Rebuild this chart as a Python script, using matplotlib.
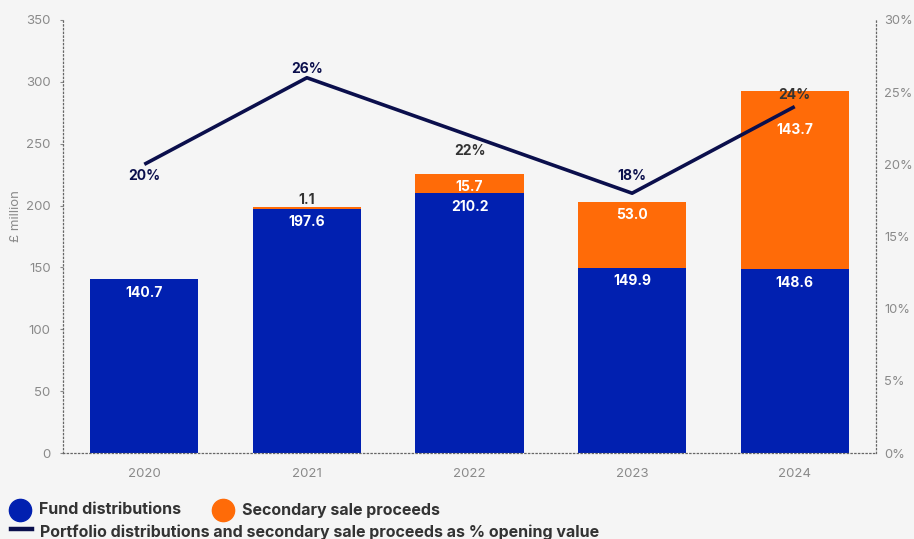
import matplotlib
matplotlib.use("Agg")
import matplotlib.pyplot as plt
from matplotlib.lines import Line2D

years = ["2020", "2021", "2022", "2023", "2024"]
fund = [140.7, 197.6, 210.2, 149.9, 148.6]
secondary = [0.0, 1.1, 15.7, 53.0, 143.7]
pct = [20, 26, 22, 18, 24]
left_ticks = [0, 50, 100, 150, 200, 250, 300, 350]
right_ticks = [0, 5, 10, 15, 20, 25, 30]

BLUE = "#0120b0"
ORANGE = "#ff6b08"
NAVY = "#0b0f4c"
DARK = "#333333"
GRAY = "#8a8a8a"
BG = "#f5f5f5"

plt.rcParams["font.family"] = ["Inter", "DejaVu Sans"]

fig = plt.figure(figsize=(9.14, 5.39), dpi=100, facecolor=BG)
ax = fig.add_axes([63/914, 1-453/539, (876-63)/914, (453-20)/539])
ax.set_facecolor(BG)
x = list(range(len(years)))
w = 0.665
ax.bar(x, fund, width=w, color=BLUE, zorder=2)
ax.bar(x, secondary, width=w, bottom=fund, color=ORANGE, zorder=2)
ax.set_xlim(-0.5, 4.5)
ax.set_ylim(0, 350)
ax.set_yticks(left_ticks)
ax.set_xticks(x)
ax.set_xticklabels(years)
ax.tick_params(axis="y", colors=GRAY, labelsize=9.5, length=2, width=0.8, pad=7)
ax.tick_params(axis="x", colors=GRAY, labelsize=9.5, length=0, pad=11)
ax.set_ylabel("£ million", color=GRAY, fontsize=9.5)
ax.yaxis.set_label_coords(-0.050, 0.547)
for s in ["top", "right"]:
    ax.spines[s].set_visible(False)
for s in ["left", "bottom"]:
    ax.spines[s].set_linestyle((0, (1, 2)))
    ax.spines[s].set_color("#666666")
    ax.spines[s].set_linewidth(0.9)

# bar labels (offsets in points, downward positive)
sec_off = [0, -5, 9.6, 9.4, 27.8]
for i in x:
    ax.annotate(f"{fund[i]:.1f}", (i, fund[i]), xytext=(0, -10), textcoords="offset points",
                ha="center", va="center", color="white", fontsize=10, fontweight="bold", zorder=4)
    if secondary[i] > 0:
        col = DARK if secondary[i] < 5 else "white"
        ax.annotate(f"{secondary[i]:.1f}", (i, fund[i] + secondary[i]), xytext=(0, -sec_off[i]),
                    textcoords="offset points", ha="center", va="center", color=col,
                    fontsize=10, fontweight="bold", zorder=4)

ax2 = ax.twinx()
ax2.set_ylim(0, 30)
ax2.set_yticks(right_ticks)
ax2.set_yticklabels([f"{t}%" for t in right_ticks])
ax2.tick_params(axis="y", colors=GRAY, labelsize=9.3, length=0, pad=6)
for s in ["top", "left", "bottom"]:
    ax2.spines[s].set_visible(False)
ax2.spines["right"].set_linestyle((0, (1, 2)))
ax2.spines["right"].set_color("#666666")
ax2.spines["right"].set_linewidth(0.9)
ax2.plot(x, pct, color=NAVY, linewidth=2.6, zorder=5, solid_capstyle="butt")

pct_off = [8.4, -6.3, 11.2, -12.6, -8.4]
cols = [NAVY, NAVY, DARK, NAVY, DARK]
for i in x:
    ax2.annotate(f"{pct[i]}%", (i, pct[i]), xytext=(0, -pct_off[i]), textcoords="offset points",
                 ha="center", va="center", color=cols[i], fontsize=10, fontweight="bold", zorder=6)

# legend
def fx(px):
    return px / 914
def fy(py):
    return 1 - py / 539

fig.add_artist(Line2D([fx(20)], [fy(510)], marker="o", markersize=16, color=BLUE, linestyle="none"))
fig.text(fx(39), fy(510), "Fund distributions", fontsize=11.5, fontweight="bold", color=DARK, va="center")
fig.add_artist(Line2D([fx(223)], [fy(510)], marker="o", markersize=16, color=ORANGE, linestyle="none"))
fig.text(fx(242), fy(510), "Secondary sale proceeds", fontsize=11.5, fontweight="bold", color=DARK, va="center")
fig.add_artist(Line2D([fx(11), fx(32)], [fy(529), fy(529)], color=NAVY, linewidth=3.2))
fig.text(fx(40), fy(532), "Portfolio distributions and secondary sale proceeds as % opening value",
         fontsize=11.5, fontweight="bold", color=DARK, va="center")

fig.savefig("out.png", dpi=100, facecolor=BG)
